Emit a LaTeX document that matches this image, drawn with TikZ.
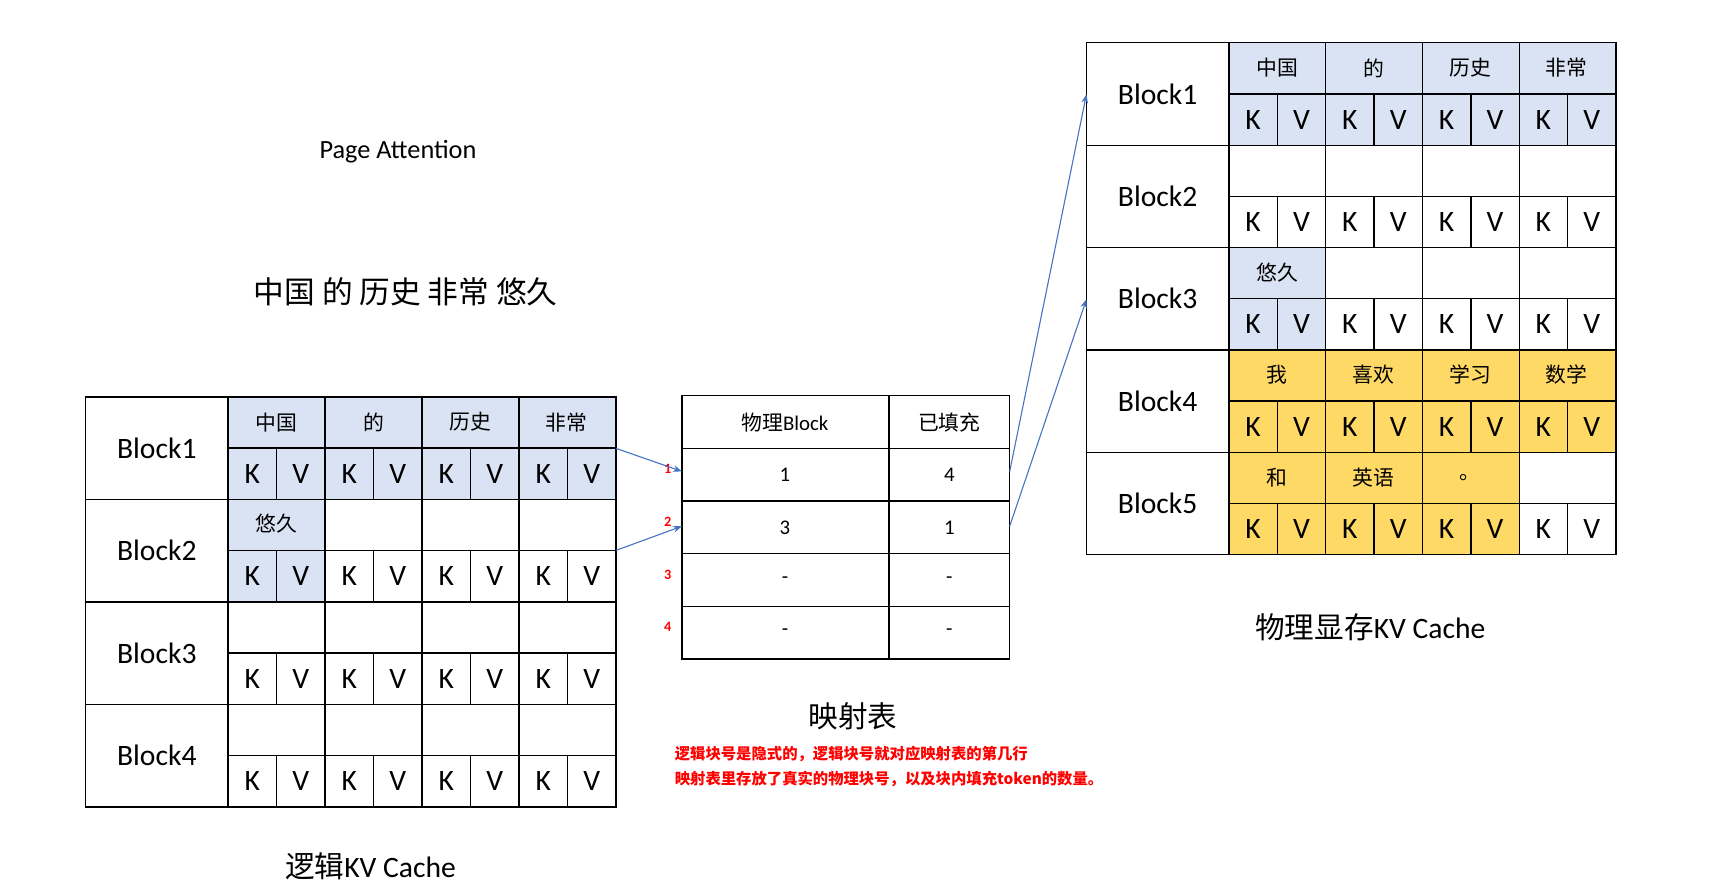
\documentclass[tikz,border=0pt]{standalone}
\usepackage{fontspec}
\setmainfont{Carlito}
\newfontfamily\cjk{Noto Sans CJK SC}
\usetikzlibrary{arrows.meta}
\definecolor{lb}{HTML}{DAE3F3}
\definecolor{ly}{HTML}{FFD966}
\definecolor{ab}{HTML}{4472C4}
\begin{document}
\begin{tikzpicture}[x=1pt,y=-1pt,
  cell/.style={draw=black,line width=1.2pt},
  big/.style={font=\fontsize{27}{30}\selectfont},
  tok/.style={font=\cjk\fontsize{19}{22}\selectfont},
  kv/.style={font=\fontsize{27}{30}\selectfont},
  tt/.style={font=\cjk\fontsize{27}{30}\selectfont},
  red/.style={text=red,font=\cjk\bfseries\fontsize{14}{16}\selectfont,anchor=west},
  arr/.style={draw=ab,line width=1pt,-{Stealth[length=8pt]}}]
\useasboundingbox (0,0) rectangle (1568,815);
% ---------- generic block drawing macro
\newcommand{\blk}[8]{% x0 y0 label fillTokens(list of 4 colors) toks...
}
% ---------- LEFT grid
\def\lx{78}\def\cx{208}\def\cw{88.5}\def\bh{93.5}
% fills
\fill[lb] (208,362) rectangle (562,455);
\fill[lb] (208,455) rectangle (297,549);
% lines
\foreach \i in {0,...,3}{
  \pgfmathsetmacro\yt{362+\i*\bh}
  \pgfmathsetmacro\ym{\yt+\bh/2}
  \pgfmathsetmacro\yb{\yt+\bh}
  \draw[cell] (78,\yt) rectangle (208,\yb);
  \node[big] (lb\i) at (143,\yt+\bh/2) {Block\pgfmathparse{int(\i+1)}\pgfmathresult};
  \foreach \j in {0,...,3}{
    \pgfmathsetmacro\xa{208+\j*\cw}
    \pgfmathsetmacro\xm{\xa+\cw/2}
    \pgfmathsetmacro\xb{\xa+\cw}
    \draw[cell] (\xa,\yt) rectangle (\xb,\ym);
    \draw[cell] (\xa,\ym) rectangle (\xm,\yb);
    \draw[cell] (\xm,\ym) rectangle (\xb,\yb);
    \node[kv] at (\xa+\cw/4,\ym+\bh/4) {K};
    \node[kv] at (\xa+3*\cw/4,\ym+\bh/4) {V};
  }
}
\node[tok] at (252,385) {中国};
\node[tok] at (341,385) {的};
\node[tok] at (429,385) {历史};
\node[tok] at (517,385) {非常};
\node[tok] at (252,478) {悠久};
\coordinate (L1) at (562,409);
\coordinate (L2) at (562,502);
% ---------- mapping table
\foreach \r in {0,...,4}{
  \pgfmathsetmacro\ya{361+\r*48}
  \pgfmathsetmacro\yb{\ya+48}
  \draw[cell] (622,\ya) rectangle (811,\yb);
  \draw[cell] (811,\ya) rectangle (921,\yb);
}
\node[tok] at (716,385) {物理\fontspec{Carlito}Block};
\node[tok] at (866,385) {已填充};
\node[font=\fontsize{19}{22}\selectfont] at (716,433) {1};
\node[font=\fontsize{19}{22}\selectfont] at (866,433) {4};
\node[font=\fontsize{19}{22}\selectfont] at (716,481) {3};
\node[font=\fontsize{19}{22}\selectfont] at (866,481) {1};
\node[font=\fontsize{19}{22}\selectfont] at (716,529) {-};
\node[font=\fontsize{19}{22}\selectfont] at (866,529) {-};
\node[font=\fontsize{19}{22}\selectfont] at (716,577) {-};
\node[font=\fontsize{19}{22}\selectfont] at (866,577) {-};
\foreach \r in {1,...,4}{
  \node[text=red,font=\bfseries\fontsize{13}{15}\selectfont] at (609,{381+\r*48-1}) {\r};
}
\coordinate (T1l) at (622,430);
\coordinate (T2l) at (622,480);
\coordinate (T1r) at (921,430);
\coordinate (T2r) at (921,480);
% ---------- RIGHT grid
\def\rw{88.25}
\fill[lb] (1121,39) rectangle (1474,132);
\fill[lb] (1121,226) rectangle (1209,319);
\fill[ly] (1121,319) rectangle (1474,413);
\fill[ly] (1121,413) rectangle (1386,506);
\foreach \i in {0,...,4}{
  \pgfmathsetmacro\yt{39+\i*93.4}
  \pgfmathsetmacro\ym{\yt+46.7}
  \pgfmathsetmacro\yb{\yt+93.4}
  \draw[cell] (991,\yt) rectangle (1121,\yb);
  \node[big] at (1056,\yt+46.7) {Block\pgfmathparse{int(\i+1)}\pgfmathresult};
  \foreach \j in {0,...,3}{
    \pgfmathsetmacro\xa{1121+\j*\rw}
    \pgfmathsetmacro\xm{\xa+\rw/2}
    \pgfmathsetmacro\xb{\xa+\rw}
    \draw[cell] (\xa,\yt) rectangle (\xb,\ym);
    \draw[cell] (\xa,\ym) rectangle (\xm,\yb);
    \draw[cell] (\xm,\ym) rectangle (\xb,\yb);
    \node[kv] at (\xa+\rw/4,\ym+23.35) {K};
    \node[kv] at (\xa+3*\rw/4,\ym+23.35) {V};
  }
}
\node[tok] at (1165,62) {中国};
\node[tok] at (1253,62) {的};
\node[tok] at (1341,62) {历史};
\node[tok] at (1429,62) {非常};
\node[tok] at (1165,249) {悠久};
\node[tok] at (1165,342) {我};
\node[tok] at (1253,342) {喜欢};
\node[tok] at (1341,342) {学习};
\node[tok] at (1429,342) {数学};
\node[tok] at (1165,436) {和};
\node[tok] at (1253,436) {英语};
\node[tok] at (1341,436) {。};
\coordinate (R1) at (991,86);
\coordinate (R3) at (991,273);
% ---------- arrows
\draw[arr] (L1) -- (T1l);
\draw[arr] (L2) -- (T2l);
\draw[arr] (T1r) -- (R1);
\draw[arr] (T2r) -- (R3);
% ---------- texts
\node[font=\fontsize{24}{28}\selectfont] (pa) at (363,138) {Page Attention};
\node[tt,font=\cjk\fontsize{28}{32}\selectfont] (sent) at (370,266) {中国\ 的\ 历史\ 非常\ 悠久};
\node[tt] (lkv) at (338,790) {逻辑\fontspec{Carlito}KV Cache};
\node[tt] (map) at (778,653) {映射表};
\node[tt] (pkv) at (1250,572) {物理显存\fontspec{Carlito}KV Cache};
\node[red] (r1) at (612,688) {逻辑块号是隐式的，逻辑块号就对应映射表的第几行};
\node[red] (r2) at (612,711) {映射表里存放了真实的物理块号，以及块内填充token的数量。};
\end{tikzpicture}
\end{document}
